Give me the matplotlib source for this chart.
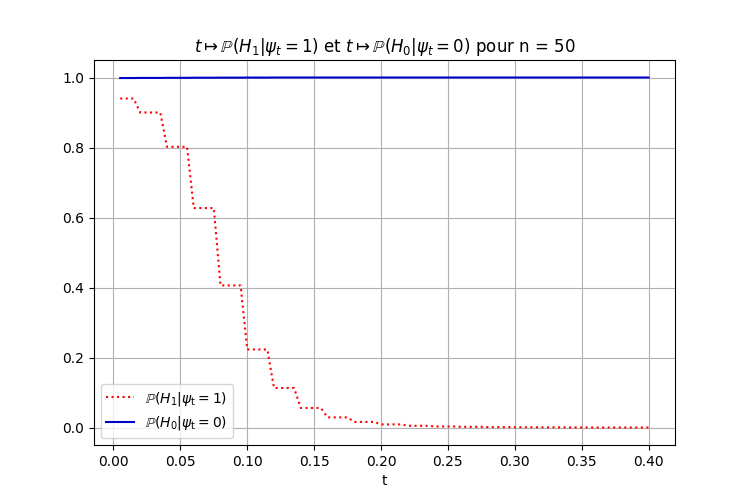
import numpy as np
import matplotlib
matplotlib.use("Agg")
import matplotlib.pyplot as plt

n = 50

# t sampled every 0.005 from 0.005 to 0.400 (80 points)
t_values = np.round(np.arange(1, 81) * 0.005, 3)

# P(H1 | psi_t = 1): one level per 1/n interval
p_h1 = (
    [0.940] * 3
    + [0.900] * 4
    + [0.802] * 4
    + [0.627] * 4
    + [0.406] * 4
    + [0.223] * 4
    + [0.113] * 4
    + [0.056] * 4
    + [0.029] * 4
    + [0.016] * 4
    + [0.009] * 4
    + [0.005] * 4
    + [0.003] * 4
    + [0.002] * 4
    + [0.0012] * 4
    + [0.0008] * 4
    + [0.0005] * 4
    + [0.0003] * 4
    + [0.0002] * 4
    + [0.0001] * 4
    + [0.0001]
)

# P(H0 | psi_t = 0): essentially 1 everywhere
p_h0 = (
    [0.9985] * 3
    + [0.9988] * 4
    + [0.9991] * 4
    + [0.9994] * 4
    + [0.9996] * 4
    + [0.9998] * 4
    + [1.0] * 57
)

fig, ax = plt.subplots(figsize=(7.5, 5), dpi=100)
ax.plot(t_values, p_h1, color="red", linestyle=":", label=r"$\mathbb{P}(H_1|\psi_{\mathrm{t}} = 1)$")
ax.plot(t_values, p_h0, color="mediumblue", label=r"$\mathbb{P}(H_0|\psi_{\mathrm{t}} = 0)$")
ax.set_title(r"$t \mapsto \mathbb{P}(H_1|\psi_t = 1)$ et $t \mapsto \mathbb{P}(H_0|\psi_t = 0)$ pour n = " + str(n))
ax.set_xlabel("t")
ax.grid(True)
ax.legend(loc="lower left")

fig.savefig("out.png", dpi=100)
